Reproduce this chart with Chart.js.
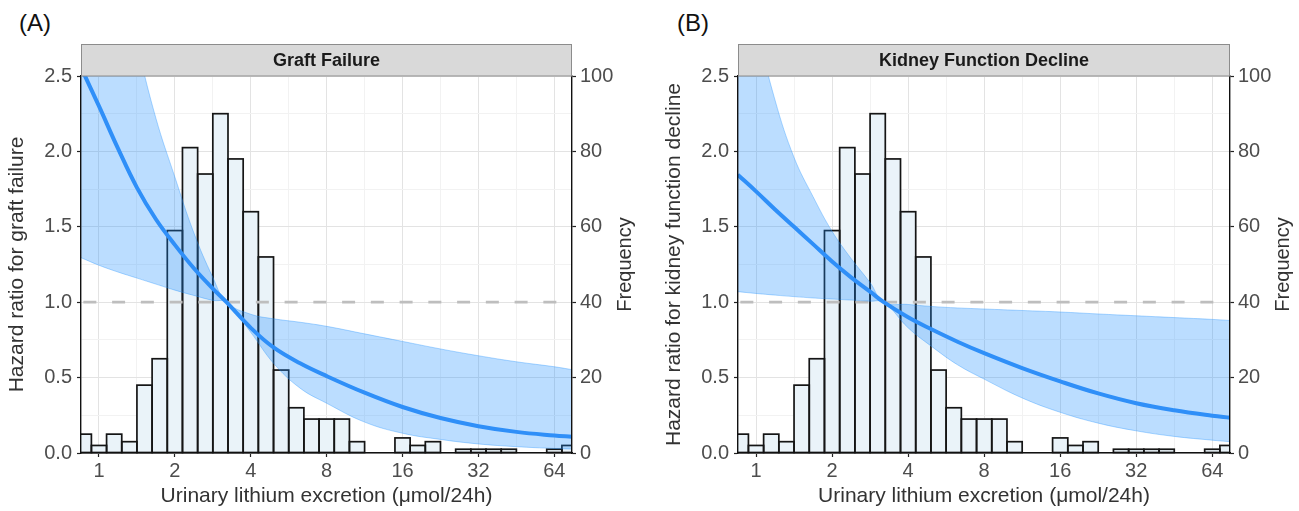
<!DOCTYPE html>
<html><head><meta charset="utf-8">
<script src="https://cdn.jsdelivr.net/npm/chart.js@4.4.1/dist/chart.umd.min.js"></script>
<style>
html,body{margin:0;padding:0;background:#fff;}
#wrap{position:relative;width:1299px;height:511px;overflow:hidden;background:#fff;}
.pan{position:absolute;top:0;height:511px;}
.lab{position:absolute;top:9px;font:24px 'Liberation Sans',Arial,sans-serif;color:#111;}
</style></head><body>
<div id="wrap">
<div class="lab" style="left:19px">(A)</div>
<div class="lab" style="left:677px">(B)</div>
<div class="pan" style="left:0;width:650px"><canvas id="cA" width="650" height="511"></canvas></div>
<div class="pan" style="left:657px;width:642px"><canvas id="cB" width="642" height="511"></canvas></div>
</div>
<script>
// ---- axis settings (log2 of urinary lithium excretion) ----
const xRangeLog2 = [-0.237, 6.233];
const xGridLog2 = [0, 0.5, 1, 1.5, 2, 2.5, 3, 3.5, 4, 4.5, 5, 5.5, 6];
const xTickLog2 = [0, 1, 2, 3, 4, 5, 6];
const xTickLabels = ['1', '2', '4', '8', '16', '32', '64'];
const yGridHR = [0, 0.25, 0.5, 0.75, 1, 1.25, 1.5, 1.75, 2, 2.25, 2.5];
const yTickLabelsHR = ['0.0', '0.5', '1.0', '1.5', '2.0', '2.5'];
const yTicksFreq = [0, 20, 40, 60, 80, 100];

// ---- histogram (bin centres in log2 units, counts) ----
const binCentersLog2 = [-0.2, 0, 0.2, 0.4, 0.6, 0.8, 1.0, 1.2, 1.4, 1.6, 1.8, 2.0, 2.2, 2.4, 2.6, 2.8, 3.0,
  3.2, 3.4, 3.6, 3.8, 4.0, 4.2, 4.4, 4.6, 4.8, 5.0, 5.2, 5.4, 5.6, 5.8, 6.0, 6.2];
const binCounts = [5, 2, 5, 3, 18, 25, 59, 81, 74, 90, 78, 64, 52, 22, 12, 9, 9,
  9, 3, 0, 0, 4, 2, 3, 0, 1, 1, 1, 1, 0, 0, 1, 2];

// ---- spline curves (x in log2 units) ----
const curveLog2 = [-0.24, 0, 0.25, 0.5, 0.75, 1.0, 1.25, 1.5, 1.68, 2.0, 2.3, 2.65, 3.0, 3.5, 4.0, 4.5, 5.0, 5.5, 6.0, 6.23];
// (A) Graft failure
const hrGraft    = [2.56, 2.30, 2.02, 1.76, 1.55, 1.38, 1.225, 1.09, 1.0, 0.83, 0.70, 0.595, 0.51, 0.40, 0.305, 0.232, 0.178, 0.14, 0.116, 0.108];
const upperGraft = [4.6, 4.0, 3.3, 2.72, 2.22, 1.83, 1.46, 1.165, 1.0, 0.92, 0.89, 0.867, 0.84, 0.79, 0.74, 0.69, 0.645, 0.605, 0.572, 0.553];
const lowerGraft = [1.296, 1.245, 1.20, 1.16, 1.12, 1.08, 1.045, 1.012, 1.0, 0.80, 0.595, 0.43, 0.33, 0.205, 0.131, 0.09, 0.06, 0.042, 0.03, 0.026];
// (B) Kidney function decline
const hrKidney    = [1.845, 1.735, 1.615, 1.50, 1.385, 1.27, 1.165, 1.07, 1.0, 0.90, 0.822, 0.738, 0.662, 0.563, 0.475, 0.395, 0.33, 0.283, 0.247, 0.234];
const upperKidney = [3.5, 2.85, 2.34, 1.96, 1.70, 1.47, 1.29, 1.13, 1.0, 0.985, 0.972, 0.962, 0.955, 0.945, 0.935, 0.922, 0.91, 0.898, 0.886, 0.879];
const lowerKidney = [1.07, 1.058, 1.047, 1.037, 1.028, 1.021, 1.014, 1.007, 1.0, 0.83, 0.71, 0.585, 0.49, 0.365, 0.27, 0.198, 0.147, 0.11, 0.085, 0.075];

const FONT = "'Liberation Sans', Arial, sans-serif";
Chart.defaults.font.family = FONT;

const isHalf = v => Math.abs(v * 2 - Math.round(v * 2)) < 1e-9;
const isInt = v => Math.abs(v - Math.round(v)) < 1e-9;
const GRID_MAJOR = '#E3E3E3', GRID_MINOR = '#F2F2F2';

const barOutline = {
  id: 'barOutline',
  afterDatasetDraw(chart, args) {
    if (args.meta.type !== 'bar') return;
    const {ctx, chartArea: a} = chart;
    ctx.save();
    ctx.beginPath(); ctx.rect(a.left, a.top, a.right - a.left, a.bottom - a.top + 2); ctx.clip();
    ctx.strokeStyle = '#151515'; ctx.lineWidth = 1.7;
    args.meta.data.forEach(el => {
      const p = el.getProps(['x', 'y', 'base', 'width'], true);
      if (Math.abs(p.base - p.y) < 0.3) return;
      ctx.strokeRect(p.x - p.width / 2, Math.min(p.y, p.base), p.width, Math.abs(p.base - p.y));
    });
    ctx.restore();
  }
};

const deco = {
  id: 'deco',
  afterDraw(chart, args, opts) {
    const {ctx, chartArea: a} = chart;
    ctx.save();
    ctx.fillStyle = '#D9D9D9';
    ctx.fillRect(a.left, 44, a.right - a.left, a.top - 44);
    ctx.strokeStyle = '#8C8C8C'; ctx.lineWidth = 1;
    ctx.strokeRect(a.left + 0.5, 44.5, a.right - a.left - 1, a.top - 44 - 0.5);
    ctx.fillStyle = '#1A1A1A'; ctx.font = 'bold 18px ' + FONT;
    ctx.textAlign = 'center'; ctx.textBaseline = 'middle';
    ctx.fillText(opts.strip, (a.left + a.right) / 2, (44 + a.top) / 2 + 1);
    ctx.translate(a.right + 53, (a.top + a.bottom) / 2);
    ctx.rotate(-Math.PI / 2);
    ctx.font = '20px ' + FONT; ctx.fillStyle = '#333';
    ctx.fillText('Frequency', 0, 0);
    ctx.restore();
  }
};

function makeChart(id, strip, yTitle, hr, upper, lower, rightW) {
  const pts = arr => curveLog2.map((c, i) => ({x: c, y: arr[i]}));
  return new Chart(document.getElementById(id), {
    type: 'bar',
    data: {
      datasets: [
        { type: 'bar', yAxisID: 'y1', data: binCentersLog2.map((c, i) => ({x: c, y: binCounts[i]})),
          backgroundColor: '#EAF3F9', borderWidth: 0, categoryPercentage: 1, barPercentage: 1, order: 5, clip: 0 },
        { type: 'line', yAxisID: 'y', data: [{x: xRangeLog2[0], y: 1}, {x: xRangeLog2[1], y: 1}],
          borderColor: '#BEBEBE', borderWidth: 2.8, borderDash: [13, 15.75], borderDashOffset: 26.4,
          pointRadius: 0, fill: false, order: 4, clip: 0 },
        { type: 'line', yAxisID: 'y', data: pts(upper), borderColor: 'rgba(30,144,255,0.35)', borderWidth: 1,
          pointRadius: 0, fill: false, tension: 0.4, order: 3, clip: 0 },
        { type: 'line', yAxisID: 'y', data: pts(lower), borderColor: 'rgba(30,144,255,0.35)', borderWidth: 1,
          pointRadius: 0, fill: '-1', backgroundColor: 'rgba(30,144,255,0.30)', tension: 0.4, order: 2, clip: 0 },
        { type: 'line', yAxisID: 'y', data: pts(hr), borderColor: '#2F8FF8', borderWidth: 4,
          pointRadius: 0, fill: false, tension: 0.4, order: 1, clip: 0 }
      ]
    },
    options: {
      responsive: false, animation: false, events: [],
      layout: {padding: {top: 76, left: 0, right: 0, bottom: 0}},
      plugins: {legend: {display: false}, tooltip: {enabled: false}, title: {display: false}, deco: {strip}},
      scales: {
        x: {
          type: 'linear', position: 'bottom', min: xRangeLog2[0], max: xRangeLog2[1], offset: false,
          afterBuildTicks: s => { s.ticks = xGridLog2.map(v => ({value: v})); },
          afterFit: s => { s.height = 58; },
          ticks: {autoSkip: false, maxRotation: 0, minRotation: 0, padding: 2, color: '#4D4D4D', font: {size: 20},
            callback: v => { const k = xTickLog2.indexOf(v); return k >= 0 ? xTickLabels[k] : ''; }},
          grid: {offset: false, color: c => (c.tick && isInt(c.tick.value)) ? GRID_MAJOR : GRID_MINOR, lineWidth: 1,
            tickLength: 4, tickColor: c => (c.tick && isInt(c.tick.value)) ? '#222' : 'rgba(0,0,0,0)', tickWidth: 1.2},
          border: {color: '#111', width: 1.4, z: 1},
          title: {display: true, text: 'Urinary lithium excretion (μmol/24h)', color: '#333', font: {size: 21}, padding: {top: 0, bottom: 2}}
        },
        y: {
          position: 'left', min: 0, max: 2.5,
          afterBuildTicks: s => { s.ticks = yGridHR.map(v => ({value: v})); },
          afterFit: s => { s.width = 81; },
          ticks: {autoSkip: false, padding: 5, color: '#4D4D4D', font: {size: 20},
            callback: v => isHalf(v) ? yTickLabelsHR[Math.round(v * 2)] : ''},
          grid: {color: c => (c.tick && isHalf(c.tick.value)) ? GRID_MAJOR : GRID_MINOR, lineWidth: 1,
            tickLength: 4, tickColor: c => (c.tick && isHalf(c.tick.value)) ? '#222' : 'rgba(0,0,0,0)', tickWidth: 1.2},
          border: {color: '#111', width: 1.4, z: 1},
          title: {display: true, text: yTitle, color: '#333', font: {size: 21}, padding: {top: 5, bottom: 0}}
        },
        y1: {
          position: 'right', min: 0, max: 100,
          afterBuildTicks: s => { s.ticks = yTicksFreq.map(v => ({value: v})); },
          afterFit: s => { s.width = rightW; },
          ticks: {autoSkip: false, padding: 4, color: '#4D4D4D', font: {size: 20}},
          grid: {drawOnChartArea: false, tickLength: 4, tickColor: '#222', tickWidth: 1.2},
          border: {color: '#111', width: 1.4, z: 1}
        }
      }
    },
    plugins: [barOutline, deco]
  });
}

makeChart('cA', 'Graft Failure', 'Hazard ratio for graft failure', hrGraft, upperGraft, lowerGraft, 78);
makeChart('cB', 'Kidney Function Decline', 'Hazard ratio for kidney function decline', hrKidney, upperKidney, lowerKidney, 69);
</script>
</body></html>
